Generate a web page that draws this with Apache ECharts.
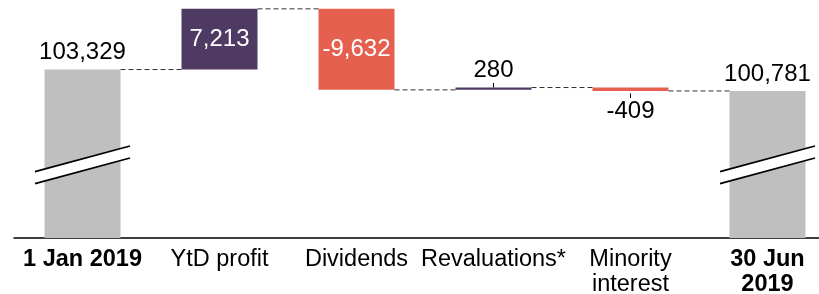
<!DOCTYPE html>
<html>
<head>
<meta charset="utf-8">
<script src="https://cdn.jsdelivr.net/npm/echarts@6/dist/echarts.min.js"></script>
<style>html,body{margin:0;padding:0;background:#fff}#c{width:819px;height:294px}</style>
</head>
<body>
<div id="c"></div>
<script>
const categories = ['1 Jan 2019', 'YtD profit', 'Dividends', 'Revaluations*', 'Minority\ninterest', '30 Jun\n2019'];
const startTotal = 103329;
const changes = [7213, -9632, 280, -409];
const endTotal = 100781;
const boldCategories = [0, 5];

const FONT = '"Liberation Sans", Arial, sans-serif';
const PURPLE = '#4E3A62', RED = '#E5604F', GREY = '#BFBFBF';
const BAR_W = 76;
const BREAK_VALUE = 92000;
const fmt = v => Number(v).toLocaleString('en-US');

// running levels
const levels = [startTotal];
changes.forEach(c => levels.push(levels[levels.length - 1] + c));

const n = categories.length;
const baseData = ['-'], incData = ['-'], decData = ['-'];
changes.forEach((c, i) => {
  baseData.push(Math.min(levels[i], levels[i + 1]));
  const small = Math.abs(c) < 2000;
  if (c >= 0) {
    incData.push({ value: c, label: small ? { position: 'top', color: '#000', distance: 5 } : { position: 'inside', color: '#fff' } });
    decData.push('-');
  } else {
    decData.push({ value: -c, label: small ? { position: 'bottom', color: '#000', distance: 8 } : { position: 'inside', color: '#fff' } });
    incData.push('-');
  }
});
baseData.push('-'); incData.push('-'); decData.push('-');
const totalData = [startTotal, '-', '-', '-', '-', endTotal];

const connectorData = levels.map((v, i) => [i, v]);
const breakData = [[0, BREAK_VALUE], [n - 1, BREAK_VALUE]];
const tickData = [];
changes.forEach((c, i) => {
  if (Math.abs(c) < 2000) tickData.push([i + 1, levels[i + 1], c >= 0 ? 1 : -1]);
});

const labelBase = { show: true, fontSize: 24, fontFamily: FONT };

const chart = echarts.init(document.getElementById('c'), null, { renderer: 'canvas' });
chart.setOption({
  animation: false,
  grid: { left: 14, width: 822, top: 5, bottom: 56, containLabel: false, outerBoundsMode: 'none' },
  xAxis: {
    type: 'category',
    data: categories,
    axisTick: { show: false },
    axisLine: { lineStyle: { color: '#000', width: 1.5 } },
    axisLabel: {
      interval: 0, margin: 9, color: '#000', fontSize: 23.5, fontFamily: FONT, lineHeight: 25,
      formatter: (v, i) => boldCategories.includes(i) ? v.split('\n').map(s => '{b|' + s + '}').join('\n') : v,
      rich: { b: { fontWeight: 'bold', fontSize: 23.5, fontFamily: FONT, color: '#000', lineHeight: 25 } }
    }
  },
  yAxis: { type: 'value', min: 83300, max: 111000, show: false, splitLine: { show: false } },
  series: [
    { type: 'bar', stack: 'w', barWidth: BAR_W, data: baseData, itemStyle: { color: 'transparent' }, silent: true },
    { type: 'bar', stack: 'w', barWidth: BAR_W, data: totalData, itemStyle: { color: GREY },
      label: Object.assign({}, labelBase, { position: 'top', color: '#000', distance: 5, formatter: p => fmt(p.value) }) },
    { type: 'bar', stack: 'w', barWidth: BAR_W, data: incData, itemStyle: { color: PURPLE },
      label: Object.assign({}, labelBase, { formatter: p => fmt(p.value) }) },
    { type: 'bar', stack: 'w', barWidth: BAR_W, data: decData, itemStyle: { color: RED },
      label: Object.assign({}, labelBase, { formatter: p => '-' + fmt(p.value) }) },
    { type: 'custom', z: 5, data: connectorData.slice(0, n - 1),
      renderItem: (params, api) => {
        const i = api.value(0), v = api.value(1);
        const p0 = api.coord([i, v]), p1 = api.coord([i + 1, v]);
        return { type: 'line', shape: { x1: p0[0] + BAR_W / 2, y1: p0[1], x2: p1[0] - BAR_W / 2, y2: p1[1] },
          style: { stroke: '#333', lineWidth: 1, lineDash: [5, 3] } };
      } },
    { type: 'custom', z: 6, data: breakData,
      renderItem: (params, api) => {
        const c = api.coord([api.value(0), api.value(1)]);
        const hw = 47.5, slope = 12.8, gap = 6;
        const x0 = c[0] - hw, x1 = c[0] + hw;
        return { type: 'group', children: [
          { type: 'polygon', shape: { points: [[x0, c[1] - gap + slope], [x1, c[1] - gap - slope], [x1, c[1] + gap - slope], [x0, c[1] + gap + slope]] },
            style: { fill: '#fff' } },
          { type: 'line', shape: { x1: x0, y1: c[1] - gap + slope, x2: x1, y2: c[1] - gap - slope }, style: { stroke: '#000', lineWidth: 1.6 } },
          { type: 'line', shape: { x1: x0, y1: c[1] + gap + slope, x2: x1, y2: c[1] + gap - slope }, style: { stroke: '#000', lineWidth: 1.6 } }
        ] };
      } },
    { type: 'custom', z: 6, data: tickData,
      renderItem: (params, api) => {
        const dir = api.value(2);
        const c = api.coord([api.value(0), api.value(1)]);
        const y0 = dir > 0 ? c[1] : c[1] + 2.5;
        return { type: 'line', shape: { x1: c[0], y1: y0, x2: c[0], y2: y0 - dir * 4.5 }, style: { stroke: '#000', lineWidth: 1 } };
      } }
  ]
});
</script>
</body>
</html>
